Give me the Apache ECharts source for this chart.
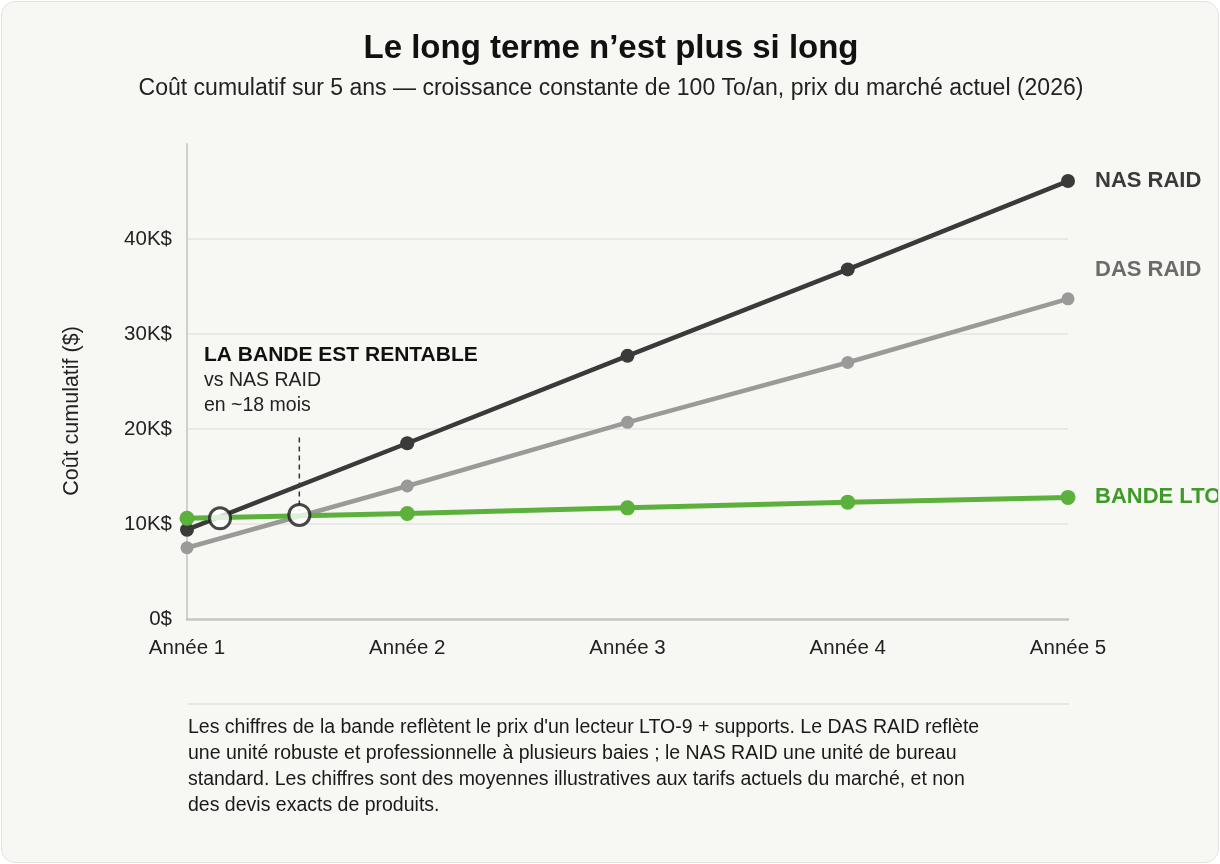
<!DOCTYPE html>
<html>
<head>
<meta charset="utf-8">
<script src="https://cdn.jsdelivr.net/npm/echarts@6/dist/echarts.min.js"></script>
<style>
  html, body { margin: 0; padding: 0; background: #ffffff; }
  #card {
    position: absolute; left: 1px; top: 1px; width: 1216px; height: 860px;
    background: #f7f7f4; border: 1px solid #e2e2de; border-radius: 14px; overflow: hidden;
  }
  #chart { width: 1218px; height: 862px; }
</style>
</head>
<body>
<div id="card"><div id="chart"></div></div>
<script>
  // categories and values (K$)
  var years = [1, 2, 3, 4, 5];
  var yearLabels = ['Année 1', 'Année 2', 'Année 3', 'Année 4', 'Année 5'];
  var nasRaid = [9.4, 18.5, 27.7, 36.8, 46.1];
  var dasRaid = [7.5, 14.0, 20.7, 27.0, 33.7];
  var bandeLto = [10.6, 11.1, 11.7, 12.3, 12.8];
  var crossX = [1.15, 1.51];
  var crossY = [10.6, 10.95];
  var breakevenLine = [[1.51, 19.1], [1.51, 11.4]];

  function pairs(xs, ys) {
    var out = [];
    for (var i = 0; i < xs.length; i++) out.push([xs[i], ys[i]]);
    return out;
  }

  var font = 'Liberation Sans, Arial, sans-serif';

  var chart = echarts.init(document.getElementById('chart'));
  var option = {
    animation: false,
    textStyle: { fontFamily: font },
    title: {
      text: 'Le long terme n’est plus si long',
      subtext: 'Coût cumulatif sur 5 ans — croissance constante de 100 To/an, prix du marché actuel (2026)',
      left: 'center',
      top: 25,
      itemGap: 12,
      textStyle: { fontSize: 33, fontWeight: 'bold', color: '#111111', fontFamily: font },
      subtextStyle: { fontSize: 23, color: '#222222', fontFamily: font }
    },
    grid: { left: 185, right: 152, top: 142, bottom: 245 },
    xAxis: {
      type: 'value',
      min: 1,
      max: 5,
      interval: 1,
      axisLine: { show: true, lineStyle: { color: '#c6c6c2', width: 2.5 } },
      axisTick: { show: false },
      splitLine: { show: false },
      axisLabel: {
        margin: 19,
        fontSize: 20.5,
        color: '#222222',
        formatter: function (v) { return yearLabels[years.indexOf(v)] || ''; }
      }
    },
    yAxis: {
      type: 'value',
      min: 0,
      max: 50,
      interval: 10,
      axisLine: { show: true, lineStyle: { color: '#cfcfcb', width: 2 } },
      axisTick: { show: false },
      axisLabel: {
        margin: 15,
        fontSize: 20.5,
        color: '#222222',
        showMaxLabel: false,
        formatter: function (v) { return v === 0 ? '0$' : v + 'K$'; }
      },
      splitLine: { show: true, showMinLine: false, showMaxLine: false, lineStyle: { color: '#e4e4e0', width: 1.5 } }
    },
    series: [
      {
        name: 'NAS RAID',
        type: 'line',
        data: pairs(years, nasRaid),
        symbol: 'circle',
        symbolSize: 14,
        lineStyle: { color: '#3a3a3a', width: 4.5 },
        itemStyle: { color: '#3a3a3a' },
        endLabel: {
          show: true, formatter: '{a}', distance: 27,
          fontSize: 22, fontWeight: 'bold', color: '#3a3a3a'
        },
        z: 3
      },
      {
        name: 'DAS RAID',
        type: 'line',
        data: pairs(years, dasRaid),
        symbol: 'circle',
        symbolSize: 13,
        lineStyle: { color: '#9a9a98', width: 4.5 },
        itemStyle: { color: '#9a9a98' },
        endLabel: {
          show: true, formatter: '{a}', distance: 27, offset: [0, -29],
          fontSize: 22, fontWeight: 'bold', color: '#6b6b6b'
        },
        z: 2
      },
      {
        name: 'BANDE LTO',
        type: 'line',
        data: pairs(years, bandeLto),
        symbol: 'circle',
        symbolSize: 15,
        lineStyle: { color: '#5cb13c', width: 5 },
        itemStyle: { color: '#5cb13c' },
        endLabel: {
          show: true, formatter: '{a}', distance: 27,
          fontSize: 22, fontWeight: 'bold', color: '#3f9a2a'
        },
        z: 4
      },
      {
        name: 'seuil',
        type: 'line',
        data: breakevenLine,
        symbol: 'none',
        lineStyle: { color: '#333333', width: 1.5, type: [5, 4] },
        silent: true,
        z: 1
      },
      {
        name: 'croisements',
        type: 'scatter',
        data: pairs(crossX, crossY),
        symbol: 'circle',
        symbolSize: 21,
        itemStyle: { color: '#ffffff', borderColor: '#1a1a1a', borderWidth: 3 },
        z: 10
      }
    ],
    graphic: [
      {
        type: 'text', x: 70, y: 409, rotation: Math.PI / 2,
        style: {
          text: 'Coût cumulatif ($)', fontSize: 21.5, fill: '#222222', fontFamily: font,
          align: 'center', verticalAlign: 'middle'
        }
      },
      {
        type: 'text', left: 202, top: 343,
        style: { text: 'LA BANDE EST RENTABLE', fontSize: 21, fontWeight: 'bold', fill: '#111111', fontFamily: font }
      },
      {
        type: 'text', left: 202, top: 366,
        style: { text: 'vs NAS RAID\nen ~18 mois', fontSize: 19.5, lineHeight: 25, fill: '#222222', fontFamily: font }
      },
      {
        type: 'line', shape: { x1: 186, y1: 702, x2: 1067, y2: 702 },
        style: { stroke: '#e2e2de', lineWidth: 1.5 }
      },
      {
        type: 'text', left: 186, top: 713,
        style: {
          text: "Les chiffres de la bande reflètent le prix d'un lecteur LTO-9 + supports. Le DAS RAID reflète\n" +
            'une unité robuste et professionnelle à plusieurs baies ; le NAS RAID une unité de bureau\n' +
            'standard. Les chiffres sont des moyennes illustratives aux tarifs actuels du marché, et non\n' +
            'des devis exacts de produits.',
          fontSize: 19.5, lineHeight: 26, fill: '#1a1a1a', fontFamily: font
        }
      }
    ]
  };
  chart.setOption(option);
</script>
</body>
</html>
